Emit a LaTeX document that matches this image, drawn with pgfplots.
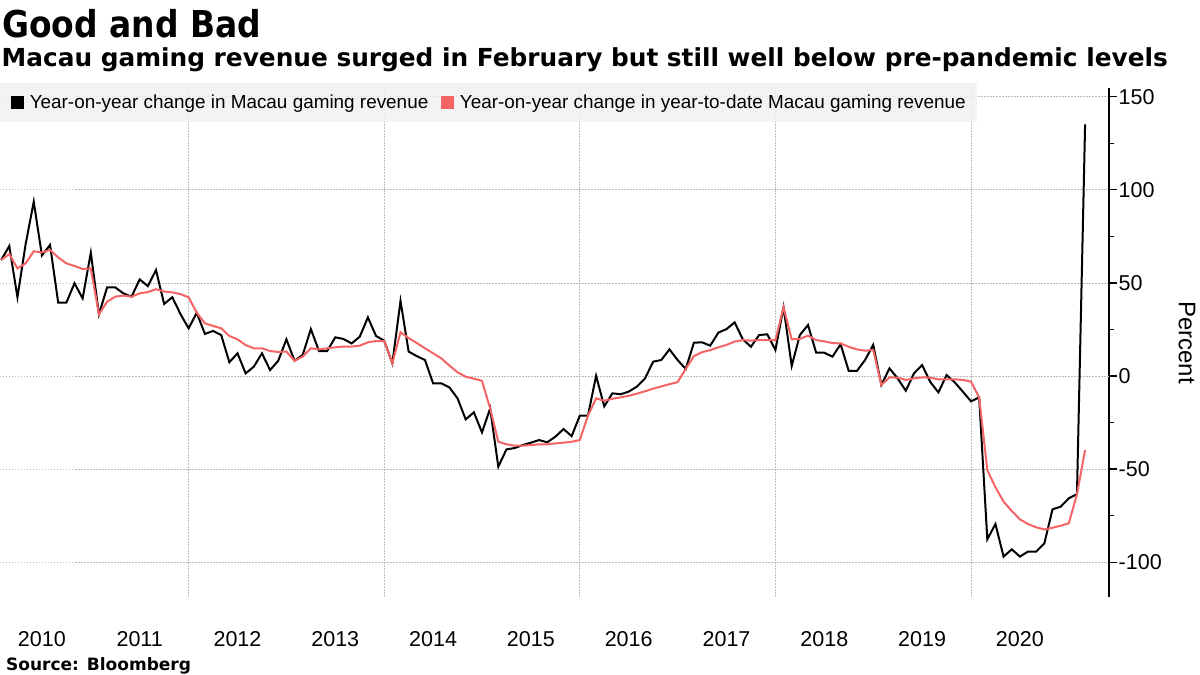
\documentclass[border=0pt]{standalone}
\usepackage{fontspec}
\setmainfont{Liberation Sans}
\newfontfamily\titlefont[FakeStretch=0.89]{DejaVu Sans}
\newfontfamily\subfont{DejaVu Sans}
\usepackage{pgfplots}
\pgfplotsset{compat=1.18}
\definecolor{bred}{RGB}{245,100,100}
\definecolor{leggray}{RGB}{241,241,241}
\definecolor{gridgray}{RGB}{190,190,190}
\pgfplotstableread{
k v
1 62.3
2 69.8
3 42.3
4 70.7
5 93.6
6 64.8
7 70.4
8 39.4
9 39.4
10 49.8
11 41.7
12 66.2
13 33.1
14 47.6
15 47.6
16 44.4
17 42.6
18 51.9
19 48.3
20 56.9
21 38.7
22 42.3
23 33.3
24 25.6
25 34.0
26 22.6
27 24.2
28 22.0
29 7.4
30 12.2
31 1.4
32 5.0
33 12.2
34 3.2
35 8.2
36 19.7
37 8.2
38 11.3
39 25.2
40 13.4
41 13.4
42 20.8
43 19.9
44 17.5
45 21.1
46 31.5
47 21.5
48 19.0
49 6.8
50 40.3
51 13.1
52 10.7
53 8.6
54 -3.9
55 -3.9
56 -6.1
57 -12.0
58 -23.3
59 -19.5
60 -30.3
61 -17.4
62 -48.7
63 -39.4
64 -38.7
65 -37.1
66 -35.8
67 -34.4
68 -35.6
69 -32.6
70 -28.5
71 -32.3
72 -21.3
73 -21.3
74 0.1
75 -16.3
76 -9.3
77 -9.8
78 -8.4
79 -5.7
80 -1.3
81 7.7
82 8.6
83 14.3
84 8.6
85 3.8
86 17.9
87 18.1
88 16.3
89 23.3
90 25.2
91 28.8
92 19.7
93 15.7
94 22.0
95 22.4
96 14.0
97 36.9
98 5.4
99 22.0
100 27.4
101 12.5
102 12.5
103 10.4
104 17.0
105 2.7
106 2.7
107 8.6
108 16.7
109 -4.8
110 4.1
111 -1.3
112 -7.9
113 1.4
114 5.9
115 -3.2
116 -8.8
117 0.5
118 -3.4
119 -8.4
120 -13.6
121 -11.5
122 -87.7
123 -79.5
124 -97.0
125 -93.1
126 -97.0
127 -94.3
128 -94.3
129 -89.9
130 -71.6
131 -70.2
132 -65.7
133 -63.5
134 135.2
}\monthly
\pgfplotstableread{
k v
1 62.3
2 65.5
3 57.8
4 60.5
5 67.0
6 66.4
7 67.7
8 63.7
9 60.5
10 59.1
11 57.5
12 57.8
13 33.1
14 39.9
15 42.6
16 43.2
17 42.6
18 44.4
19 45.1
20 46.6
21 45.4
22 44.9
23 44.0
24 42.3
25 34.0
26 28.3
27 26.9
28 25.6
29 21.5
30 19.7
31 16.6
32 14.9
33 14.9
34 13.4
35 12.9
36 13.1
37 8.2
38 10.4
39 14.9
40 14.3
41 14.9
42 15.4
43 15.8
44 15.8
45 16.3
46 18.1
47 18.8
48 18.8
49 6.8
50 23.5
51 20.4
52 17.7
53 14.9
54 12.2
55 9.5
56 5.6
57 2.0
58 -0.4
59 -1.4
60 -2.6
61 -17.4
62 -35.3
63 -36.7
64 -37.4
65 -37.4
66 -37.1
67 -36.7
68 -36.7
69 -36.2
70 -35.8
71 -35.3
72 -34.4
73 -21.3
74 -12.0
75 -13.3
76 -12.2
77 -11.5
78 -10.6
79 -9.5
80 -8.2
81 -6.8
82 -5.6
83 -4.4
84 -3.3
85 3.8
86 10.7
87 12.8
88 13.9
89 15.4
90 16.7
91 18.5
92 19.3
93 19.0
94 19.3
95 19.3
96 19.3
97 36.9
98 19.7
99 19.9
100 21.7
101 19.3
102 18.6
103 17.7
104 17.5
105 15.7
106 14.3
107 13.6
108 14.0
109 -4.8
110 -0.7
111 -0.9
112 -2.1
113 -1.3
114 -0.7
115 -0.9
116 -1.8
117 -1.8
118 -1.8
119 -2.1
120 -3.0
121 -11.5
122 -50.5
123 -59.8
124 -67.5
125 -72.5
126 -77.0
127 -79.5
128 -81.3
129 -82.4
130 -81.5
131 -80.4
132 -79.1
133 -63.5
134 -39.7
}\ytd
\begin{document}
\begin{tikzpicture}[x=1pt,y=1pt]
\path[use as bounding box] (0,0) rectangle (1200,675);
\begin{axis}[
  at={(0pt,78pt)}, anchor=south west,
  scale only axis, width=1109pt, height=509pt,
  xmin=0.859, xmax=136.93, ymin=-118.7, ymax=154.7,
  axis x line*=bottom, axis y line*=right,
  x axis line style={draw=none},
  y axis line style={line width=1.3pt, -},
  xtick={6,18,30,42,54,66,78,90,102,114,126},
  xticklabels={2010,2011,2012,2013,2014,2015,2016,2017,2018,2019,2020},
  minor xtick={24,48,72,96,120},
  xminorgrids=true,
  minor grid style={gridgray, dash pattern=on 1.5pt off 1.5pt, line width=0.8pt},
  ytick={-100,-50,50,100,150},
  yticklabels={-100,-50,50,100,150},
  extra y ticks={0}, extra y tick labels={0},
  extra y tick style={grid style={black!65, dash pattern=on 2pt off 1pt, line width=2.4pt}},
  minor ytick={-75,-25,25,75,125},
  ymajorgrids=true,
  major grid style={gridgray, dash pattern=on 1.5pt off 1.5pt, line width=0.8pt},
  tick align=outside,
  major tick length=8pt, minor tick length=5pt,
  every tick/.style={black, line width=1.2pt},
  major x tick style={draw=none},
  minor x tick style={draw=none},
  xticklabel style={anchor=base, yshift=-41.7pt, font=\fontsize{21.5}{21.5}\selectfont},
  yticklabel style={anchor=west, inner sep=0pt, xshift=1.5pt, font=\fontsize{21.5}{21.5}\selectfont},
  ylabel={Percent},
  every axis y label/.style={at={(axis description cs:1,0.5)}, anchor=center, rotate=-90, yshift=78pt, font=\fontsize{24}{24}\selectfont},
  legend columns=2,
  legend cell align=left,
  legend style={at={(axis description cs:0,1)}, anchor=north west, yshift=5pt,
    draw=none, fill=leggray, fill opacity=0.85, text opacity=1,
    inner xsep=11pt, inner ysep=12pt,
    nodes={inner sep=0pt},
    font=\fontsize{18.9}{22}\selectfont,
    /tikz/every odd column/.append style={column sep=5.6pt},
    /tikz/every even column/.append style={column sep=13pt}},
  legend image code/.code={\fill[#1, fill opacity=1] (0pt,-5.5pt) rectangle (11pt,5.5pt);},
]
\addplot[black, line width=2pt, mark=none] table[x=k, y=v] {\monthly};
\addlegendentry{Year-on-year change in Macau gaming revenue}
\addplot[bred, line width=2pt, mark=none] table[x=k, y=v] {\ytd};
\addlegendentry{Year-on-year change in year-to-date Macau gaming revenue}
\end{axis}
\node[anchor=base west, inner sep=0pt, font=\fontsize{37}{40}\titlefont\bfseries] at (2,637.7) {Good and Bad};
\node[anchor=base west, inner sep=0pt, font=\fontsize{24.8}{28}\subfont\bfseries] at (1.5,608.3) {Macau gaming revenue surged in February but still well below pre-pandemic levels};
\node[anchor=base west, inner sep=0pt, font=\fontsize{17}{18}\subfont\bfseries] at (6,4.3) {Source: Bloomberg};
\end{tikzpicture}
\end{document}
